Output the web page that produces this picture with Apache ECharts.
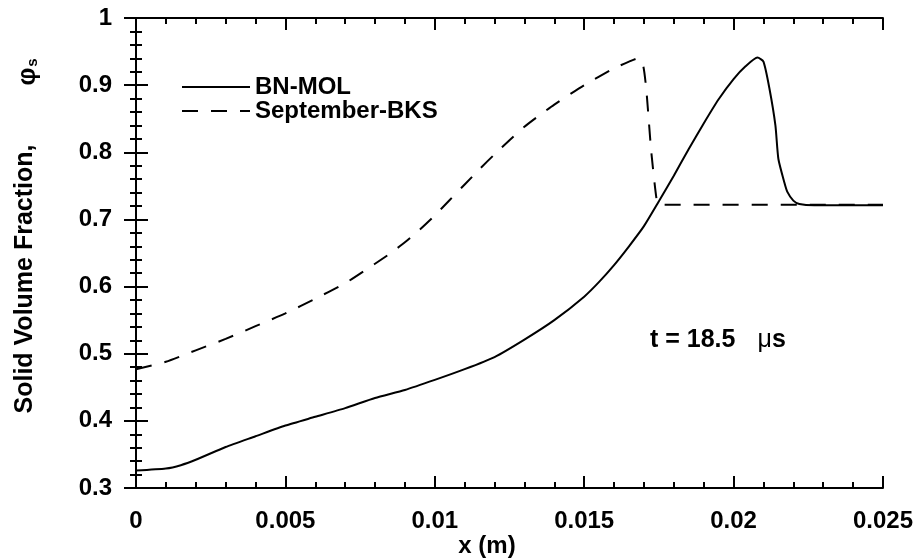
<!DOCTYPE html>
<html>
<head>
<meta charset="utf-8">
<script src="https://cdn.jsdelivr.net/npm/echarts@6/dist/echarts.min.js"></script>
<style>
  html, body { margin: 0; padding: 0; background: #fff; }
  #chart { width: 916px; height: 558px; }
</style>
</head>
<body>
<div id="chart"></div>
<script>
// Solid volume fraction profiles at t = 18.5 µs
const bnMolX = [0, 0.001, 0.0015, 0.002, 0.003, 0.004, 0.005, 0.006, 0.007, 0.008, 0.009, 0.01,
  0.011, 0.012, 0.013, 0.014, 0.015, 0.0155, 0.016, 0.0165, 0.017, 0.0175, 0.018, 0.0185, 0.019,
  0.0195, 0.02, 0.0204, 0.0208, 0.021, 0.0212, 0.0214, 0.0215, 0.0217, 0.0218, 0.022, 0.0222, 0.0227, 0.025];
const bnMolY = [0.326, 0.329, 0.334, 0.342, 0.361, 0.377, 0.393, 0.406, 0.419, 0.434, 0.446, 0.461,
  0.477, 0.495, 0.521, 0.550, 0.585, 0.607, 0.632, 0.660, 0.690, 0.727, 0.765, 0.805, 0.843,
  0.879, 0.909, 0.928, 0.941, 0.935, 0.895, 0.840, 0.790, 0.755, 0.741, 0.728, 0.723, 0.721, 0.721];

const bksX = [0, 0.001, 0.002, 0.003, 0.004, 0.005, 0.006, 0.007, 0.008, 0.0085, 0.009, 0.0095, 0.01,
  0.0105, 0.011, 0.0115, 0.012, 0.0125, 0.013, 0.0135, 0.014, 0.015, 0.016, 0.0165, 0.0168,
  0.01697, 0.01708, 0.01724, 0.01741, 0.0175, 0.025];
const bksY = [0.477, 0.488, 0.505, 0.522, 0.541, 0.560, 0.582, 0.605, 0.634, 0.649, 0.666, 0.685, 0.706,
  0.729, 0.752, 0.775, 0.797, 0.818, 0.838, 0.855, 0.871, 0.900, 0.925, 0.935, 0.940,
  0.930, 0.893, 0.8035, 0.734, 0.722, 0.722];

const seriesNames = ['BN-MOL', 'September-BKS'];

const FONT = "'Liberation Sans', Arial, Helvetica, sans-serif";
const pairs = (xs, ys) => xs.map((x, i) => [x, ys[i]]);

const chart = echarts.init(document.getElementById('chart'), null, { renderer: 'canvas' });

const tickStyle = { color: '#000', width: 2 };
const frameAxis = {
  axisLine: { show: true, lineStyle: { color: '#000', width: 2 } },
  axisTick: { show: true, inside: true, length: 12, lineStyle: tickStyle },
  minorTick: { show: true, splitNumber: 5, length: 6, lineStyle: tickStyle },
  splitLine: { show: false },
  minorSplitLine: { show: false }
};

chart.setOption({
  animation: false,
  backgroundColor: '#fff',
  grid: { left: 136, top: 18, width: 750, height: 470 },
  legend: {
    data: seriesNames,
    orient: 'vertical',
    left: 176,
    top: 70,
    itemWidth: 68,
    itemHeight: 12,
    itemGap: 0,
    itemStyle: { opacity: 0 },
    textStyle: { fontFamily: FONT, fontWeight: 'bold', fontSize: 24, color: '#000', lineHeight: 22 }
  },
  xAxis: [
    Object.assign({
      type: 'value', min: 0, max: 0.025, interval: 0.005,
      axisLabel: { margin: 21, color: '#000', fontFamily: FONT, fontWeight: 'bold', fontSize: 24 }
    }, frameAxis),
    Object.assign({
      type: 'value', position: 'top', min: 0, max: 0.025, interval: 0.005,
      axisLabel: { show: false }
    }, frameAxis)
  ],
  yAxis: [
    Object.assign({
      type: 'value', min: 0.3, max: 1, interval: 0.1,
      axisLabel: { margin: 24, color: '#000', fontFamily: FONT, fontWeight: 'bold', fontSize: 24 }
    }, frameAxis),
    Object.assign({
      type: 'value', position: 'right', min: 0.3, max: 1, interval: 0.1,
      axisLabel: { show: false }
    }, frameAxis)
  ],
  series: [
    {
      name: seriesNames[0], type: 'line', data: pairs(bnMolX, bnMolY),
      showSymbol: false, symbol: 'none', smooth: 0.2,
      lineStyle: { color: '#000', width: 2 }, itemStyle: { color: '#000' }
    },
    {
      name: seriesNames[1], type: 'line', data: pairs(bksX, bksY),
      showSymbol: false, symbol: 'none', smooth: 0.2,
      lineStyle: { color: '#000', width: 2, type: [16, 13] }, itemStyle: { color: '#000' }
    }
  ],
  graphic: [
    {
      type: 'text', x: 25, y: 279, rotation: Math.PI / 2,
      style: {
        text: 'Solid Volume Fraction,', fill: '#000',
        font: 'bold 25px ' + FONT, textAlign: 'center', textVerticalAlign: 'middle'
      }
    },
    {
      type: 'text', x: 28, y: 72, rotation: Math.PI / 2,
      style: {
        text: '{p|φ}{s|s}', fill: '#000', textAlign: 'center', textVerticalAlign: 'middle',
        rich: {
          p: { font: 'bold 25px ' + FONT, fill: '#000' },
          s: { font: 'bold 15px ' + FONT, fill: '#000', padding: [10, 0, 0, 1] }
        }
      }
    },
    {
      type: 'text', x: 650, y: 340,
      style: {
        text: '{a|t = 18.5}{g| }{m|μ}{a|s}', textVerticalAlign: 'middle',
        rich: {
          a: { font: 'bold 25px ' + FONT, fill: '#000' },
          g: { font: 'bold 25px ' + FONT, width: 22 },
          m: { font: '25px ' + FONT, fill: '#000' }
        }
      }
    },
    {
      type: 'text', x: 487, y: 546,
      style: {
        text: 'x (m)', fill: '#000', font: 'bold 24px ' + FONT,
        textAlign: 'center', textVerticalAlign: 'middle'
      }
    }
  ]
});
</script>
</body>
</html>
